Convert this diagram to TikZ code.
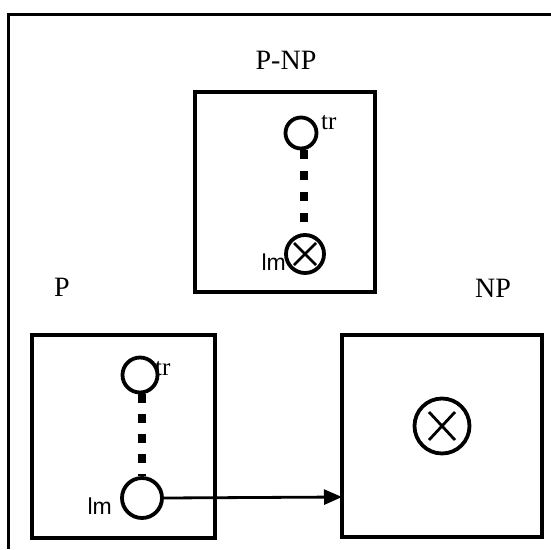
\documentclass[tikz,border=0pt]{standalone}
\usepackage{fontspec}
\setmainfont{Liberation Serif}
\newfontfamily\lmsans{Liberation Sans}
\usetikzlibrary{arrows.meta}
\begin{document}
\begin{tikzpicture}[x=1pt,y=-1pt,
  frame/.style={draw,line width=3.4pt},
  ring/.style={circle,draw,line width=3.8pt,inner sep=0pt},
  title/.style={font=\fontsize{28}{32}\selectfont},
  small/.style={font=\fontsize{25}{28}\selectfont,inner sep=0pt},
  lmtext/.style={font=\lmsans\fontsize{23}{26}\selectfont,inner sep=0pt},
  dots/.style={line width=8pt}
]
\useasboundingbox (0,0) rectangle (551,549);
% outer frame (only top and left visible)
\coordinate (fr) at (551,14);
\coordinate (fc) at (8,14);
\coordinate (fb) at (8,549);
\draw[line width=3pt] (fr) -- (fc) -- (fb);

% titles
\node[title] (tPNP) at (286,60) {P-NP};
\node[title] (tP) at (62,287) {P};
\node[title] (tNP) at (493,288) {NP};

% boxes
\draw[frame] (195,92) rectangle (375,292);
\draw[frame] (32,335) rectangle (215,538);
\draw[frame] (342,335) rectangle (542,537);

% P-NP box contents
\node[ring,minimum size=31pt] (trA) at (301,133) {};
\node[small,anchor=west] (trAl) at (321,123) {tr};
\node[ring,minimum size=38pt,path picture={\draw[line width=2.8pt]
   ([shift={(-11pt,-11pt)}]path picture bounding box.center) -- ([shift={(11pt,11pt)}]path picture bounding box.center)
   ([shift={(-11pt,11pt)}]path picture bounding box.center) -- ([shift={(11pt,-11pt)}]path picture bounding box.center);}] (lmA) at (305,254) {};
\node[lmtext,anchor=east] (lmAl) at (286,262) {lm};
\draw[dots,dash pattern=on 9pt off 12pt] ([xshift=3pt]trA.south) -- ([xshift=-1pt]lmA.north);

% P box contents
\node[ring,minimum size=35pt] (trB) at (140,375) {};
\node[small,anchor=west] (trBl) at (155,369) {tr};
\node[ring,minimum size=40pt] (lmB) at (142,498) {};
\node[lmtext,anchor=east] (lmBl) at (112,506) {lm};
\draw[dots,dash pattern=on 9pt off 11pt] ([xshift=2pt]trB.south) -- (lmB.north);

% NP box contents
\node[ring,minimum size=55pt,path picture={\draw[line width=2.8pt]
   ([shift={(-13pt,-14pt)}]path picture bounding box.center) -- ([shift={(13pt,14pt)}]path picture bounding box.center)
   ([shift={(-13pt,14pt)}]path picture bounding box.center) -- ([shift={(13pt,-14pt)}]path picture bounding box.center);}] (xC) at (442,426) {};

% arrow from P lm to NP box
\coordinate (npin) at (342,497);
\draw[line width=2.8pt,-{Triangle[length=18pt,width=15pt]}] (lmB.east) -- (npin);
\end{tikzpicture}
\end{document}
